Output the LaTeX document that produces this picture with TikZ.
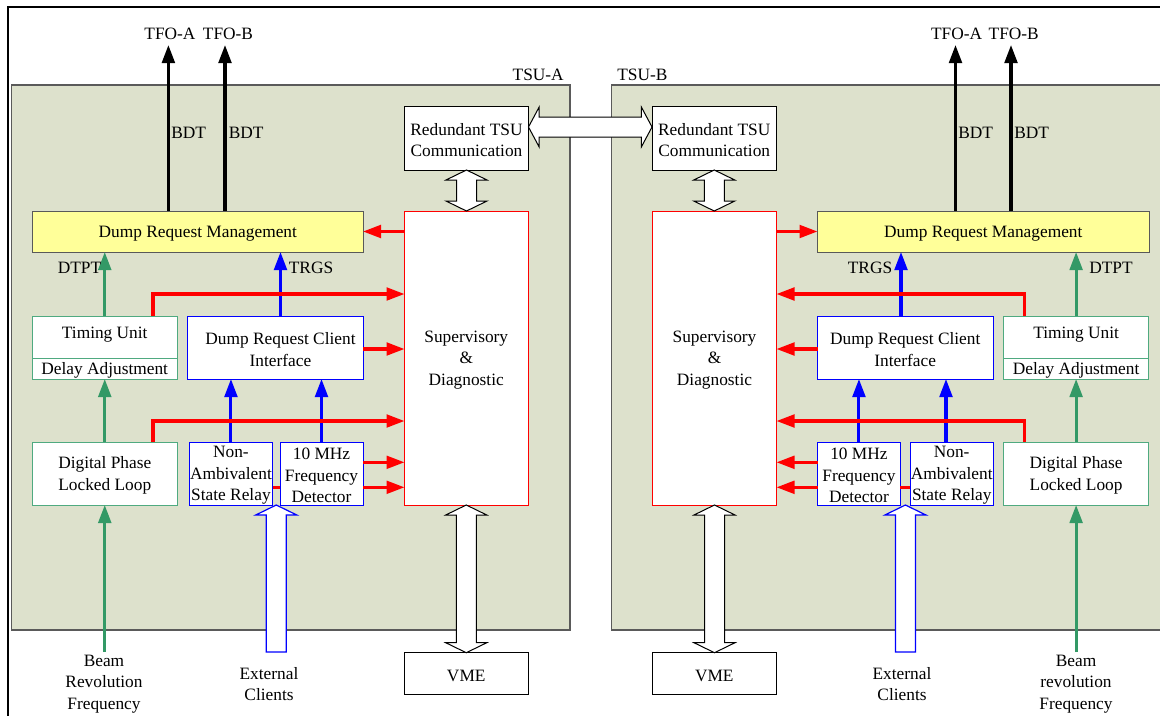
\documentclass[tikz,border=0pt]{standalone}
\usepackage{fontspec}
\setmainfont{Liberation Serif}
\usetikzlibrary{arrows.meta,calc}

\definecolor{tsufill}{HTML}{DDE1CC}
\definecolor{tsuline}{HTML}{5A5A5A}
\definecolor{drmfill}{HTML}{FFFF99}
\definecolor{grn}{HTML}{339966}
\definecolor{grnbox}{HTML}{4FAA80}
\definecolor{blu}{HTML}{0000FF}
\definecolor{rd}{HTML}{FF0000}

% rectangular block given by its two corners (pixel units), caption set slightly low
\newcommand\blk[7]{%
  \node[#6, minimum width={(#4-#2)*0.75pt}, minimum height={(#5-#3)*0.75pt}]
    (#1) at ({(#2+#4)/2},{(#3+#5)/2}) {};
  \node[lbl] (#1t) at ($(#1.center)+(0,2)$) {#7};}

% hollow vertical double arrow from tip #1 (top) to tip #2 (bottom)
\newcommand\hollowV[3]{%
  \filldraw[#3] let \p1=(#1), \p2=(#2) in
    (\x1,\y1) -- (\x1+15.4pt,\y1-7.5pt) -- (\x1+7.5pt,\y1-7.5pt)
    -- (\x1+7.5pt,\y2+7.5pt) -- (\x1+15.4pt,\y2+7.5pt) -- (\x1,\y2)
    -- (\x1-15.4pt,\y2+7.5pt) -- (\x1-7.5pt,\y2+7.5pt)
    -- (\x1-7.5pt,\y1-7.5pt) -- (\x1-15.4pt,\y1-7.5pt) -- cycle;}

% hollow horizontal double arrow from tip #1 (left) to tip #2 (right)
\newcommand\hollowH[3]{%
  \filldraw[#3] let \p1=(#1), \p2=(#2) in
    (\x1,\y1) -- (\x1+8pt,\y1+15pt) -- (\x1+8pt,\y1+7.5pt)
    -- (\x2-8pt,\y1+7.5pt) -- (\x2-8pt,\y1+15pt) -- (\x2,\y1)
    -- (\x2-8pt,\y1-15pt) -- (\x2-8pt,\y1-7.5pt)
    -- (\x1+8pt,\y1-7.5pt) -- (\x1+8pt,\y1-15pt) -- cycle;}

% hollow single arrow pointing up to tip #1, tail at #2
\newcommand\hollowUp[3]{%
  \filldraw[#3] let \p1=(#1), \p2=(#2) in
    (\x1,\y1) -- (\x1+15.4pt,\y1-7.5pt) -- (\x1+7.5pt,\y1-7.5pt)
    -- (\x1+7.5pt,\y2) -- (\x1-7.5pt,\y2)
    -- (\x1-7.5pt,\y1-7.5pt) -- (\x1-15.4pt,\y1-7.5pt) -- cycle;}

\tikzset{
  box/.style={draw, fill=white, inner sep=0pt, outer sep=0pt, line width=0.75pt},
  greenbox/.style={box, draw=grnbox},
  bluebox/.style={box, draw=blu},
  redbox/.style={box, draw=rd},
  plainbox/.style={box, draw=black},
  drmbox/.style={box, fill=drmfill, draw=black!65},
  tsu/.style={fill=tsufill, draw=tsuline, line width=0.8pt},
  sig/.style={line width=2.3pt, -{Triangle[length=13.5pt,width=9.5pt]}},
  blackarrow/.style={sig, draw=black},
  greenarrow/.style={sig, draw=grn},
  bluearrow/.style={sig, draw=blu},
  redarrow/.style={sig, draw=rd},
  redline/.style={line width=2.3pt, draw=rd},
  hollow/.style={draw=black, fill=white, line width=0.75pt},
  hollowblue/.style={draw=blu, fill=white, line width=0.9pt},
  lbl/.style={inner sep=0pt, align=center},
}

\begin{document}
\begin{tikzpicture}[x=0.75pt, y=-0.75pt, font=\fontsize{13}{16.2}\selectfont]
\useasboundingbox (0,0) rectangle (1160,715);
\clip (0,0) rectangle (1160,715);

% outer frame
\draw[line width=1.5pt] (8.4,720) -- (8.4,6.7) -- (1170,6.7);

% the two timing units
\draw[tsu] (11.5,85) rectangle (570,630);
\draw[tsu] (611.4,85) rectangle (1180,630);
\node[lbl, anchor=east] (tsuAl) at (564,75) {TSU-A};
\node[lbl, anchor=west] (tsuBl) at (617,75) {TSU-B};

% ---------------- TSU-A blocks ----------------
\blk{drmA}{32.5}{211}{363}{252}{drmbox}{Dump Request Management}
\blk{rtcA}{404.5}{106}{528.5}{170}{plainbox}{Redundant TSU\\Communication}
\blk{sdA}{404.5}{211}{528}{505}{redbox}{Supervisory\\\&\\Diagnostic}
\blk{vmeA}{404.5}{652.7}{528}{694.3}{plainbox}{VME}
\blk{tuA}{32.5}{316}{177}{379}{greenbox}{}
\draw[grnbox, line width=0.75pt] ($(tuA.south west)+(0,-21)$) -- ($(tuA.south east)+(0,-21)$);
\node[lbl] (tuAu) at ($(tuA.north)+(0,19)$) {Timing Unit};
\node[lbl] (tuAd) at ($(tuA.south)+(0,-9)$) {Delay Adjustment};
\blk{drciA}{187.5}{316}{363}{379}{bluebox}{}
\node[lbl] (drciAu) at ($(drciA.center)+(5.25,2)$) {Dump Request Client\\Interface};
\blk{dpllA}{32.5}{442}{177}{505}{greenbox}{Digital Phase\\Locked Loop}
\blk{nasrA}{189.4}{442}{272.5}{505}{bluebox}{Non-\\Ambivalent\\State Relay}
\blk{tenA}{280}{442}{363}{505}{bluebox}{10 MHz\\Frequency\\Detector}

% ---------------- TSU-B blocks ----------------
\blk{drmB}{817.5}{211}{1149}{252}{drmbox}{Dump Request Management}
\blk{rtcB}{652}{106}{776.5}{170}{plainbox}{Redundant TSU\\Communication}
\blk{sdB}{652.5}{211}{776.5}{505}{redbox}{Supervisory\\\&\\Diagnostic}
\blk{vmeB}{652}{652.7}{776.5}{694.3}{plainbox}{VME}
\blk{tuB}{1003.6}{316}{1148.6}{379}{greenbox}{}
\draw[grnbox, line width=0.75pt] ($(tuB.south west)+(0,-21)$) -- ($(tuB.south east)+(0,-21)$);
\node[lbl] (tuBu) at ($(tuB.north)+(0,19)$) {Timing Unit};
\node[lbl] (tuBd) at ($(tuB.south)+(0,-9)$) {Delay Adjustment};
\blk{drciB}{817.5}{316}{993}{379}{bluebox}{Dump Request Client\\Interface}
\blk{dpllB}{1003.6}{442}{1148.6}{505}{greenbox}{Digital Phase\\Locked Loop}
\blk{tenB}{817.5}{442}{900.4}{505}{bluebox}{10 MHz\\Frequency\\Detector}
\blk{nasrB}{910.4}{442}{993}{505}{bluebox}{Non-\\Ambivalent\\State Relay}

% ---------------- beam dump triggers ----------------
\coordinate (tfoA1) at (168.4,45);
\coordinate (tfoA2) at (225,45);
\coordinate (tfoB1) at (955.5,45);
\coordinate (tfoB2) at (1011,45);
\draw[blackarrow] (tfoA1 |- drmA.north) -- (tfoA1);
\draw[blackarrow] (tfoA2 |- drmA.north) -- (tfoA2);
\draw[blackarrow] (tfoB1 |- drmB.north) -- (tfoB1);
\draw[blackarrow] (tfoB2 |- drmB.north) -- (tfoB2);
\node[lbl] (tfoA1l) at (170,34) {TFO-A};
\node[lbl] (tfoA2l) at (228,34) {TFO-B};
\node[lbl] (tfoB1l) at (956.6,34) {TFO-A};
\node[lbl] (tfoB2l) at (1013.7,34) {TFO-B};
\node[lbl, anchor=west] (bdtA1) at (171,133) {BDT};
\node[lbl, anchor=west] (bdtA2) at (228.5,133) {BDT};
\node[lbl, anchor=west] (bdtB1) at (958,133) {BDT};
\node[lbl, anchor=west] (bdtB2) at (1014,133) {BDT};

% ---------------- timing chain (green) ----------------
\coordinate (beamA) at ($(dpllA.south)+(0,147)$);
\coordinate (beamB) at ($(dpllB.south)+(0,147)$);
\draw[greenarrow] (tuA.north) -- (tuA.north |- drmA.south);
\draw[greenarrow] (dpllA.north) -- (dpllA.north |- tuA.south);
\draw[greenarrow] (beamA) -- (dpllA.south);
\draw[greenarrow] (tuB.north) -- (tuB.north |- drmB.south);
\draw[greenarrow] (dpllB.north) -- (dpllB.north |- tuB.south);
\draw[greenarrow] (beamB) -- (dpllB.south);
\node[lbl] (dtptA) at (79.5,268) {DTPT};
\node[lbl] (dtptB) at (1111,268) {DTPT};
\node[lbl] (beamAl) at (104,684) {Beam\\Revolution\\Frequency};
\node[lbl] (beamBl) at (1076,684) {Beam\\revolution\\Frequency};

% ---------------- client requests (blue) ----------------
\coordinate (trgA) at ($(drciA.north)+(5.25,0)$);
\coordinate (trgB) at ($(drciB.north)+(-4.25,0)$);
\coordinate (nasB) at ($(nasrB.north)+(-5.7,0)$);
\draw[bluearrow] (trgA) -- (trgA |- drmA.south);
\draw[bluearrow] (nasrA.north) -- (nasrA.north |- drciA.south);
\draw[bluearrow] (tenA.north) -- (tenA.north |- drciA.south);
\draw[bluearrow] (trgB) -- (trgB |- drmB.south);
\draw[bluearrow] (nasB) -- (nasB |- drciB.south);
\draw[bluearrow] (tenB.north) -- (tenB.north |- drciB.south);
\node[lbl] (trgsA) at (311,268) {TRGS};
\node[lbl] (trgsB) at (870,268) {TRGS};

% ---------------- supervision (red) ----------------
\draw[redarrow] (sdA.west |- drmA.east) -- (drmA.east);
\coordinate (rtA) at ($(tuA.north)+(48.25,0)$);
\draw[redarrow] (rtA) -- ++(0,-22) coordinate (rtAk) -- (rtAk -| sdA.west);
\coordinate (rdA) at ($(dpllA.north)+(48.25,0)$);
\draw[redarrow] (rdA) -- ++(0,-21) coordinate (rdAk) -- (rdAk -| sdA.west);
\coordinate (dcA) at ($(drciA.east)+(0,1.5)$);
\draw[redarrow] (dcA) -- (dcA -| sdA.west);
\coordinate (tA1) at ($(tenA.east)+(0,-11.2)$);
\coordinate (tA2) at ($(tenA.east)+(0,13.8)$);
\draw[redarrow] (tA1) -- (tA1 -| sdA.west);
\draw[redarrow] (tA2) -- (tA2 -| sdA.west);
\draw[redline] ($(nasrA.east)+(0,13.8)$) -- ($(tenA.west)+(0,13.8)$);

\draw[redarrow] (sdB.east |- drmB.west) -- (drmB.west);
\coordinate (rtB) at ($(tuB.north)+(-51.4,0)$);
\draw[redarrow] (rtB) -- ++(0,-22) coordinate (rtBk) -- (rtBk -| sdB.east);
\coordinate (rdB) at ($(dpllB.north)+(-51.4,0)$);
\draw[redarrow] (rdB) -- ++(0,-21) coordinate (rdBk) -- (rdBk -| sdB.east);
\coordinate (dcB) at ($(drciB.west)+(0,1.5)$);
\draw[redarrow] (dcB) -- (dcB -| sdB.east);
\coordinate (tB1) at ($(tenB.west)+(0,-11.2)$);
\coordinate (tB2) at ($(tenB.west)+(0,13.8)$);
\draw[redarrow] (tB1) -- (tB1 -| sdB.east);
\draw[redarrow] (tB2) -- (tB2 -| sdB.east);
\draw[redline] ($(tenB.east)+(0,13.8)$) -- ($(nasrB.west)+(0,13.8)$);

% ---------------- buses (hollow arrows) ----------------
\hollowH{$(rtcA.east)+(0,-11)$}{$(rtcB.west)+(0,-11)$}{hollow}
\hollowV{rtcA.south}{sdA.north}{hollow}
\hollowV{sdA.south}{vmeA.north}{hollow}
\hollowV{rtcB.south}{sdB.north}{hollow}
\hollowV{sdB.south}{vmeB.north}{hollow}

\coordinate (extAtip) at ($(nasrA.south east)!0.5!(tenA.south west)$);
\coordinate (extAbase) at ($(extAtip)+(0,147)$);
\coordinate (extBtip) at ($(tenB.south east)!0.5!(nasrB.south west)$);
\coordinate (extBbase) at ($(extBtip)+(0,147)$);
\hollowUp{extAtip}{extAbase}{hollowblue}
\hollowUp{extBtip}{extBbase}{hollowblue}
\node[lbl] (extAl) at (269,684) {External\\Clients};
\node[lbl] (extBl) at (902,684) {External\\Clients};
\end{tikzpicture}
\end{document}
